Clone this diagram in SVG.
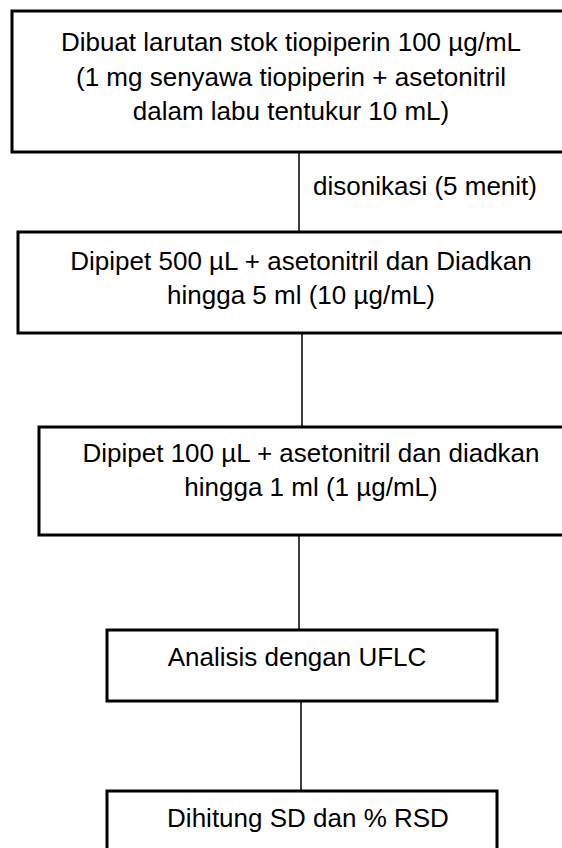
<svg xmlns="http://www.w3.org/2000/svg" width="562" height="848" viewBox="0 0 562 848">
<style>
.box{fill:#fff;stroke:#000;stroke-width:3}
.t{font-family:"Liberation Sans",Arial,sans-serif;font-size:26px;fill:#000;text-anchor:middle}
.lbl{font-family:"Liberation Sans",Arial,sans-serif;font-size:26px;fill:#000}
.c{stroke:#000;stroke-width:1.5;fill:none}
</style>
<rect width="562" height="848" fill="#fff"/>
<g id="connectors">
<line class="c" x1="299" y1="152" x2="299" y2="232"/>
<line class="c" x1="302" y1="333" x2="302" y2="427"/>
<line class="c" x1="299" y1="535" x2="299" y2="630"/>
<line class="c" x1="301" y1="701" x2="301" y2="791"/>
<text class="lbl" x="313" y="195">disonikasi (5 menit)</text>
</g>
<g id="n1">
<rect class="box" x="12" y="11" width="600" height="141"/>
<text class="t" x="291" y="51">Dibuat larutan stok tiopiperin 100 µg/mL</text>
<text class="t" x="291" y="86">(1 mg senyawa tiopiperin + asetonitril</text>
<text class="t" x="291" y="120">dalam labu tentukur 10 mL)</text>
</g>
<g id="n2">
<rect class="box" x="18" y="232" width="600" height="101"/>
<text class="t" x="301" y="270">Dipipet 500 µL + asetonitril dan Diadkan</text>
<text class="t" x="301" y="304">hingga 5 ml (10 µg/mL)</text>
</g>
<g id="n3">
<rect class="box" x="39" y="427" width="600" height="108"/>
<text class="t" x="311" y="462">Dipipet 100 µL + asetonitril dan diadkan</text>
<text class="t" x="311" y="496">hingga 1 ml (1 µg/mL)</text>
</g>
<g id="n4">
<rect class="box" x="107" y="630" width="390" height="71"/>
<text class="t" x="297" y="666">Analisis dengan UFLC</text>
</g>
<g id="n5">
<rect class="box" x="107" y="791" width="390" height="80"/>
<text class="t" x="308" y="827">Dihitung SD dan % RSD</text>
</g>
</svg>
